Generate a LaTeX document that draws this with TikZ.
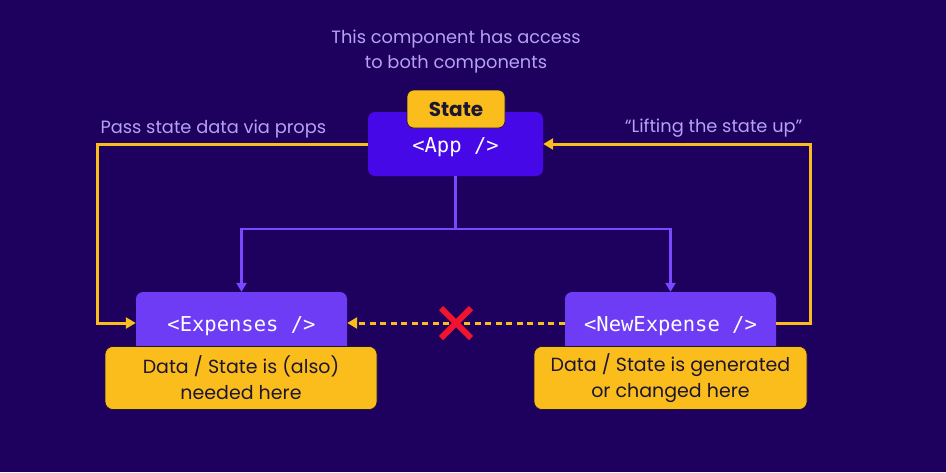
\documentclass[tikz,border=0pt]{standalone}
\usepackage{fontspec}
\setmainfont{Poppins}
\newfontfamily\codefont{DejaVu Sans Mono}
\usepackage{tikz}
\usetikzlibrary{positioning, arrows.meta}

\definecolor{bgpurple}{HTML}{1E005E}
\definecolor{appblue}{HTML}{4608E6}
\definecolor{comppurple}{HTML}{6E3CF5}
\definecolor{treepurple}{HTML}{7A48FF}
\definecolor{amber}{HTML}{FBBD1B}
\definecolor{lavender}{HTML}{B6A2F2}
\definecolor{notetext}{HTML}{1C1630}
\definecolor{crossred}{HTML}{F2142E}

\tikzset{
    comp/.style={rounded corners=7pt, minimum height=62pt, text=white,
        text height=18pt, text depth=1pt,
        font=\codefont\fontsize{20.5}{24}\selectfont},
    note/.style={draw=notetext, line width=0.6pt, fill=amber, rounded corners=8pt,
        text=notetext, align=center, minimum height=63pt,
        font=\fontsize{19}{26}\selectfont},
    caption/.style={text=lavender, align=center, font=\fontsize{17.8}{25}\selectfont},
    flow/.style={amber, line width=3pt, -{Triangle[length=10pt,width=11pt]}},
    tree/.style={treepurple, line width=2.2pt, -{Triangle[length=9pt,width=10pt]}}
}

\begin{document}
\begin{tikzpicture}[x=1pt, y=-1pt]
    \fill[bgpurple] (0,0) rectangle (946,472);
    \useasboundingbox (0,0) rectangle (946,472);

    \node[caption] at (456,52) (info) {This component has access\\to both components};
    \node[caption, anchor=west] at (97,129) (pass) {Pass state data via props};
    \node[caption, anchor=east] at (806,128) (lift) {“Lifting the state up”};

    \node[comp, fill=appblue, minimum width=175pt, minimum height=64pt] at (455.5,144) (App) {<App />};
    \node[draw=notetext, line width=0.6pt, fill=amber, rounded corners=7pt, minimum width=98pt, minimum height=38pt,
        font=\bfseries\fontsize{20}{22}\selectfont, text=notetext] at (456,109) (State) {State};

    \node[comp, fill=comppurple, minimum width=211pt] at (241.5,323) (Expenses) {<Expenses />};
    \node[comp, fill=comppurple, minimum width=211pt] at (670.5,323) (NewExpense) {<NewExpense />};
    \node[note, minimum width=272pt] at (241,378) (needed) {Data / State is (also)\\needed here};
    \node[note, minimum width=273pt] at (670.5,378) (changed) {Data / State is generated\\or changed here};

    \coordinate (split) at (455.5,229);
    \draw[tree] (App.south) -- (split) -| (Expenses.north);
    \draw[tree] (split) -| (NewExpense.north);

    \coordinate (leftturn) at (97,144);
    \coordinate (rightturn) at (810,144);
    \draw[flow] (App.west) -- (leftturn) |- (Expenses.west);
    \draw[flow] (NewExpense.east) -| (rightturn) -- (App.east);
    \draw[flow, dash pattern=on 6pt off 4.5pt] (NewExpense.west) -- (Expenses.east);

    % blocked path
    \coordinate (cross) at (456,323);
    \draw[crossred, line width=6pt] (cross) ++(-15,-15) -- ++(30,30);
    \draw[crossred, line width=6pt] (cross) ++(15,-15) -- ++(-30,30);
\end{tikzpicture}
\end{document}
